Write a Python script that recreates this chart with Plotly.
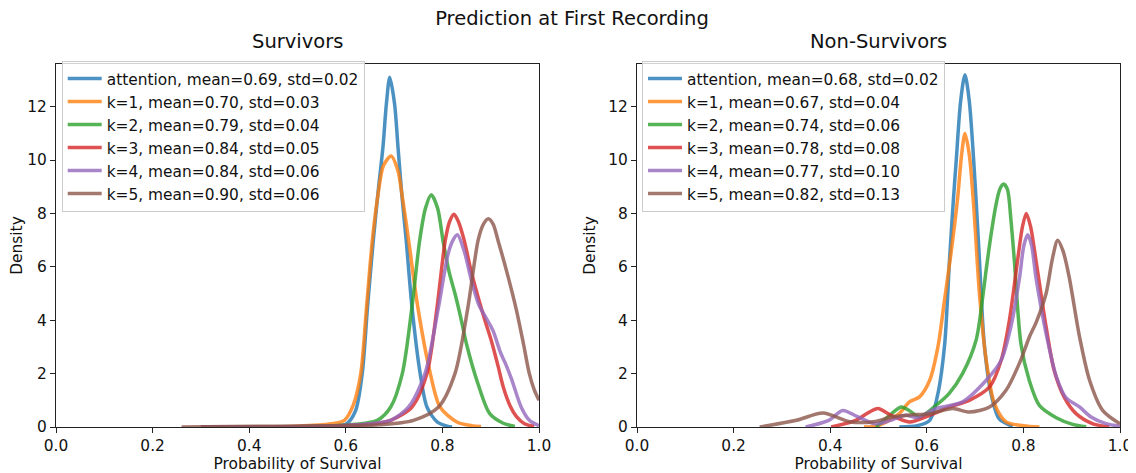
import plotly.graph_objects as go
from plotly.subplots import make_subplots

# ---------------- data ----------------
labels_surv = [
    "attention, mean=0.69, std=0.02",
    "k=1, mean=0.70, std=0.03",
    "k=2, mean=0.79, std=0.04",
    "k=3, mean=0.84, std=0.05",
    "k=4, mean=0.84, std=0.06",
    "k=5, mean=0.90, std=0.06",
]
labels_non = [
    "attention, mean=0.68, std=0.02",
    "k=1, mean=0.67, std=0.04",
    "k=2, mean=0.74, std=0.06",
    "k=3, mean=0.78, std=0.08",
    "k=4, mean=0.77, std=0.10",
    "k=5, mean=0.82, std=0.13",
]
colors = ["#1f77b4", "#ff7f0e", "#2ca02c", "#d62728", "#9467bd", "#8c564b"]

# Survivors
s_att_x = [0.30, 0.50, 0.57, 0.60, 0.62, 0.634, 0.645, 0.657, 0.668, 0.677, 0.684, 0.691, 0.701, 0.708, 0.716, 0.725, 0.737, 0.754, 0.768, 0.789, 0.81, 0.82]
s_att_y = [0.0, 0.01, 0.03, 0.10, 0.6, 2.0, 4.5, 7.0, 9.0, 10.5, 12.1, 13.1, 12.1, 10.5, 8.7, 7.0, 4.5, 2.0, 0.75, 0.19, 0.03, 0.0]
s_k1_x = [0.30, 0.50, 0.57, 0.597, 0.615, 0.631, 0.643, 0.655, 0.667, 0.678, 0.694, 0.708, 0.716, 0.730, 0.749, 0.775, 0.795, 0.83, 0.86, 0.88]
s_k1_y = [0.0, 0.03, 0.12, 0.25, 0.8, 2.0, 4.5, 7.0, 8.75, 9.8, 10.15, 9.6, 8.75, 7.0, 4.5, 2.0, 0.75, 0.19, 0.05, 0.02]
s_k2_x = [0.30, 0.55, 0.62, 0.665, 0.693, 0.717, 0.737, 0.753, 0.765, 0.777, 0.790, 0.802, 0.814, 0.826, 0.838, 0.85, 0.874, 0.898, 0.925, 0.95]
s_k2_y = [0.0, 0.03, 0.10, 0.25, 0.75, 2.0, 4.5, 7.0, 8.2, 8.7, 8.2, 6.9, 5.8, 5.0, 4.1, 3.1, 1.6, 0.5, 0.15, 0.02]
s_k3_x = [0.30, 0.55, 0.65, 0.693, 0.737, 0.768, 0.789, 0.806, 0.815, 0.824, 0.833, 0.845, 0.86, 0.875, 0.888, 0.901, 0.915, 0.926, 0.94, 0.953, 0.97, 0.99]
s_k3_y = [0.0, 0.03, 0.10, 0.25, 0.75, 2.0, 4.5, 7.0, 7.7, 7.97, 7.7, 7.0, 5.8, 4.8, 4.0, 3.25, 2.3, 1.5, 0.8, 0.4, 0.12, 0.02]
s_k4_x = [0.30, 0.55, 0.65, 0.693, 0.73, 0.764, 0.792, 0.812, 0.822, 0.831, 0.845, 0.86, 0.875, 0.89, 0.905, 0.92, 0.93, 0.943, 0.963, 0.98, 1.0]
s_k4_y = [0.0, 0.03, 0.12, 0.25, 0.75, 2.0, 4.5, 6.5, 7.0, 7.2, 6.6, 5.5, 4.6, 4.1, 3.6, 2.8, 2.4, 1.8, 0.75, 0.25, 0.05]
s_k5_x = [0.26, 0.45, 0.60, 0.67, 0.74, 0.792, 0.826, 0.853, 0.874, 0.885, 0.895, 0.905, 0.915, 0.935, 0.953, 0.968, 0.98, 0.99, 1.0]
s_k5_y = [0.0, 0.03, 0.05, 0.08, 0.25, 0.75, 2.0, 4.5, 7.0, 7.6, 7.8, 7.6, 7.0, 5.7, 4.4, 3.1, 2.0, 1.4, 1.0]

# Non-Survivors
n_att_x = [0.543, 0.58, 0.606, 0.623, 0.637, 0.647, 0.655, 0.661, 0.670, 0.679, 0.688, 0.697, 0.703, 0.709, 0.719, 0.733, 0.75, 0.778]
n_att_y = [0.0, 0.05, 0.25, 1.25, 3.1, 6.25, 8.5, 10.0, 12.2, 13.2, 12.2, 10.0, 8.2, 6.25, 3.1, 1.25, 0.3, 0.02]
n_k1_x = [0.47, 0.495, 0.516, 0.543, 0.564, 0.585, 0.606, 0.623, 0.637, 0.650, 0.664, 0.672, 0.679, 0.688, 0.697, 0.709, 0.723, 0.74, 0.764, 0.80, 0.833]
n_k1_y = [0.0, 0.03, 0.19, 0.5, 0.94, 1.13, 1.75, 3.0, 4.8, 6.5, 8.6, 10.2, 11.0, 10.2, 8.3, 5.0, 2.5, 0.88, 0.19, 0.05, 0.0]
n_k2_x = [0.495, 0.523, 0.547, 0.565, 0.585, 0.619, 0.646, 0.674, 0.702, 0.716, 0.723, 0.733, 0.743, 0.751, 0.759, 0.767, 0.774, 0.781, 0.795, 0.812, 0.833, 0.868, 0.902, 0.93]
n_k2_y = [0.0, 0.44, 0.75, 0.6, 0.375, 0.81, 1.25, 2.0, 3.25, 4.9, 5.9, 7.2, 8.3, 8.9, 9.1, 8.9, 7.8, 6.3, 3.1, 1.75, 0.81, 0.35, 0.1, 0.01]
n_k3_x = [0.402, 0.453, 0.48, 0.499, 0.525, 0.564, 0.606, 0.647, 0.688, 0.73, 0.754, 0.771, 0.788, 0.798, 0.806, 0.815, 0.826, 0.847, 0.864, 0.885, 0.909, 0.944, 0.978]
n_k3_y = [0.0, 0.25, 0.55, 0.69, 0.45, 0.19, 0.44, 0.75, 1.0, 1.5, 2.5, 4.0, 6.25, 7.5, 8.0, 7.5, 6.25, 3.75, 2.1, 1.1, 0.5, 0.12, 0.01]
n_k4_x = [0.349, 0.397, 0.426, 0.455, 0.494, 0.525, 0.556, 0.58, 0.619, 0.674, 0.723, 0.754, 0.774, 0.792, 0.801, 0.809, 0.817, 0.826, 0.847, 0.868, 0.888, 0.916, 0.94, 0.971, 1.0]
n_k4_y = [0.0, 0.25, 0.62, 0.4, 0.12, 0.25, 0.44, 0.35, 0.69, 0.94, 1.75, 2.5, 3.75, 5.6, 6.8, 7.2, 6.8, 5.6, 3.5, 1.9, 1.1, 0.75, 0.375, 0.125, 0.03]
n_k5_x = [0.254, 0.33, 0.385, 0.44, 0.49, 0.527, 0.565, 0.606, 0.654, 0.688, 0.73, 0.764, 0.792, 0.813, 0.826, 0.847, 0.860, 0.871, 0.882, 0.895, 0.916, 0.937, 0.964, 1.0]
n_k5_y = [0.0, 0.25, 0.52, 0.2, 0.2, 0.375, 0.45, 0.5, 0.69, 0.56, 0.75, 1.375, 2.4, 3.4, 3.9, 5.0, 6.3, 7.0, 6.6, 5.6, 3.4, 1.75, 0.625, 0.12]

surv_x = [s_att_x, s_k1_x, s_k2_x, s_k3_x, s_k4_x, s_k5_x]
surv_y = [s_att_y, s_k1_y, s_k2_y, s_k3_y, s_k4_y, s_k5_y]
non_x = [n_att_x, n_k1_x, n_k2_x, n_k3_x, n_k4_x, n_k5_x]
non_y = [n_att_y, n_k1_y, n_k2_y, n_k3_y, n_k4_y, n_k5_y]

x_ticks = [0.0, 0.2, 0.4, 0.6, 0.8, 1.0]
y_ticks = [0, 2, 4, 6, 8, 10, 12]

# ---------------- figure ----------------
# the page body adds an 8px offset, so the figure is sized to fill the rest of the window
FONT = "DejaVu Sans"
W, H = 1128, 465
ML, MR, MT, MB = 48, 16, 56, 46
PW = W - ML - MR
PH = H - MT - MB
fig = make_subplots(rows=1, cols=2, subplot_titles=("Survivors", "Non-Survivors"))

for i in range(6):
    fig.add_trace(go.Scatter(x=surv_x[i], y=surv_y[i], mode="lines", name=labels_surv[i],
                             line=dict(color=colors[i], width=3.5, shape="spline", smoothing=0.8),
                             opacity=0.8, legend="legend", legendgroup=f"s{i}"), row=1, col=1)
for i in range(6):
    fig.add_trace(go.Scatter(x=non_x[i], y=non_y[i], mode="lines", name=labels_non[i],
                             line=dict(color=colors[i], width=3.5, shape="spline", smoothing=0.8),
                             opacity=0.8, legend="legend2", legendgroup=f"n{i}"), row=1, col=2)

TF = 15.4
axis_common = dict(showline=True, linecolor="#222", linewidth=1, mirror=True,
                   ticks="outside", ticklen=5, tickcolor="#222", showgrid=False,
                   zeroline=False, automargin=False,
                   tickfont=dict(family=FONT, size=TF, color="#111"))
domains = [[0, 483 / PW], [581 / PW, 1]]
for c in (1, 2):
    fig.update_xaxes(range=[0, 1], tickvals=x_ticks, ticktext=[f"{v:.1f}" for v in x_ticks],
                     domain=domains[c - 1],
                     title=dict(text="Probability of Survival", font=dict(family=FONT, size=TF, color="#111"), standoff=3),
                     row=1, col=c, **axis_common)
    fig.update_yaxes(range=[0, 13.6], tickvals=y_ticks,
                     title=dict(text="Density", font=dict(family=FONT, size=TF, color="#111"), standoff=8),
                     row=1, col=c, **axis_common)

for k, ann in enumerate(fig.layout.annotations):
    ann.font = dict(family=FONT, size=19.5, color="#111")
    ann.x = sum(domains[k]) / 2
    ann.yshift = 9

legend_common = dict(bgcolor="rgba(255,255,255,0.8)", bordercolor="#cccccc", borderwidth=1,
                     font=dict(family=FONT, size=15.4, color="#111"), yanchor="top", xanchor="left",
                     tracegroupgap=0, itemwidth=34)
fig.update_layout(
    width=W, height=H,
    margin=dict(l=ML, r=MR, t=MT, b=MB, autoexpand=False),
    paper_bgcolor="white", plot_bgcolor="white",
    title=dict(text="Prediction at First Recording", x=0.5, xanchor="center", y=1 - 10 / H, yanchor="middle",
               font=dict(family=FONT, size=19.5, color="#111"), automargin=False),
    legend=dict(x=5.7 / PW, y=1 + 3 / PH, **legend_common),
    legend2=dict(x=586 / PW, y=1 + 3 / PH, **legend_common),
    showlegend=True,
)

fig.write_html("out.html")
